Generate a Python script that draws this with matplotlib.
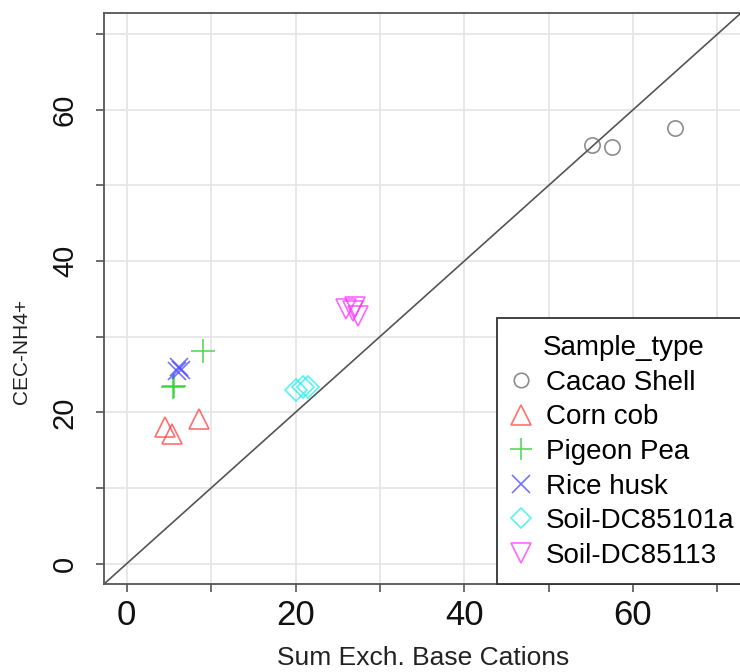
import matplotlib
matplotlib.use("Agg")
import matplotlib.pyplot as plt
from matplotlib.patches import Rectangle

plt.rcParams['font.family'] = ['Liberation Sans', 'DejaVu Sans']

cacao_x = [55.1, 57.5, 65.0]
cacao_y = [55.4, 55.1, 57.6]
corn_x = [4.5, 5.4, 8.6]
corn_y = [18.0, 17.1, 19.1]
pigeon_x = [5.5, 5.6, 9.0]
pigeon_y = [23.4, 23.5, 28.1]
rice_x = [5.9, 6.2, 6.4]
rice_y = [25.5, 26.0, 25.6]
soil1_x = [20.0, 20.9, 21.5]
soil1_y = [23.0, 23.3, 23.4]
soil2_x = [26.0, 26.8, 27.4, 27.0]
soil2_y = [33.6, 33.4, 32.7, 33.9]

labels = ["Cacao Shell", "Corn cob", "Pigeon Pea", "Rice husk", "Soil-DC85101a", "Soil-DC85113"]
xticks = [0, 20, 40, 60]
yticks = [0, 20, 40, 60]
minor_ticks = [10, 30, 50, 70]

fig = plt.figure(figsize=(7.4, 6.72), dpi=100)
ax = fig.add_axes([104/740, 88/672, 637/740, 571/672])
lim = (-2.7, 72.8)
ax.set_xlim(lim)
ax.set_ylim(lim)

for t in xticks + minor_ticks:
    ax.axvline(t, color='#e6e6e6', lw=1.3, zorder=0)
    ax.axhline(t, color='#e6e6e6', lw=1.3, zorder=0)

ax.axline((0, 0), slope=1, color='#555555', lw=1.2, zorder=1)

series = [
    (cacao_x, cacao_y, 'o', '#666666', 11),
    (corn_x, corn_y, '^', '#ff4040', 15),
    (pigeon_x, pigeon_y, '+', '#22cc22', 17),
    (rice_x, rice_y, 'x', '#4444ff', 13),
    (soil1_x, soil1_y, 'D', '#22eeee', 11),
    (soil2_x, soil2_y, 'v', '#ff33ff', 15),
]
handles = []
for (xs, ys, m, c, s), lab in zip(series, labels):
    if m in ('+', 'x'):
        h, = ax.plot(xs, ys, ls='none', marker=m, ms=s, mew=1.2, color=c, alpha=0.75, label=lab)
    else:
        h, = ax.plot(xs, ys, ls='none', marker=m, ms=s, mew=1.2, mfc='none', mec=c, alpha=0.75, label=lab)
    handles.append(h)

all_ticks = sorted(xticks + minor_ticks)
ax.set_xticks(all_ticks)
ax.set_xticklabels([str(t) if t in xticks else '' for t in all_ticks])
ax.set_yticks(sorted(yticks + minor_ticks))
ax.set_yticklabels([str(t) if t in yticks else '' for t in sorted(yticks + minor_ticks)],
                   rotation=90, va='center')
ax.tick_params(axis='both', direction='out', length=6, width=1.2, color='#555555',
               labelcolor='#111111')
ax.tick_params(axis='x', pad=5, labelsize=25)
ax.tick_params(axis='y', pad=12, labelsize=21)

for sp in ax.spines.values():
    sp.set_color('#555555')
    sp.set_linewidth(1.3)

fig.text(423/740, 1 - 658/672, 'Sum Exch. Base Cations', ha='center', va='center',
         fontsize=19, color='#222222')
fig.text(22/740, 1 - 351/672, 'CEC-NH4+', ha='center', va='center', rotation=90,
         fontsize=15, color='#222222')

x0 = (497 - 104) / 637
frame = Rectangle((x0, 0), 1.1 - x0, (584 - 318) / 571, transform=ax.transAxes,
                  facecolor='white', edgecolor='#333333', lw=1.3, zorder=4, clip_on=False)
ax.add_patch(frame)
leg = ax.legend(handles=handles, labels=labels, title='Sample_type', loc='lower left',
                bbox_to_anchor=(x0, 0.0), frameon=False,
                fontsize=20, title_fontsize=20,
                handlelength=0.6, handletextpad=0.6, labelspacing=0.31,
                borderpad=0.55, markerscale=0.95, borderaxespad=0)
leg.set_zorder(5)
for h in leg.legend_handles:
    h.set_alpha(0.75)

fig.savefig('out.png', dpi=100)
